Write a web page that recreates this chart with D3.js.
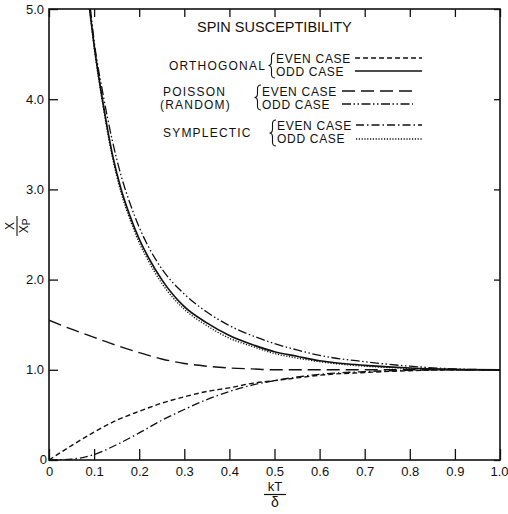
<!DOCTYPE html>
<html>
<head>
<meta charset="utf-8">
<script src="https://cdn.jsdelivr.net/npm/d3@7"></script>
<style>
  html, body { margin: 0; padding: 0; background: #fff; }
  svg { display: block; font-family: "Liberation Sans", Arial, Helvetica, sans-serif; }
</style>
</head>
<body>
<svg id="chart" width="508" height="514"></svg>
<script>
// ---- Data ----
const xTickValues = [0, 0.1, 0.2, 0.3, 0.4, 0.5, 0.6, 0.7, 0.8, 0.9, 1.0];
const xTickLabels = ["0", "0.1", "0.2", "0.3", "0.4", "0.5", "0.6", "0.7", "0.8", "0.9", "1.0"];
const yTickValues = [0, 1, 2, 3, 4, 5];
const yTickLabels = ["0", "1.0", "2.0", "3.0", "4.0", "5.0"];

// Orthogonal, odd case (solid)
const orthOddT = [0.09, 0.10, 0.12, 0.14, 0.16, 0.18, 0.20, 0.22, 0.25, 0.30, 0.35, 0.40, 0.45, 0.50, 0.55, 0.60, 0.65, 0.70, 0.80, 0.90, 1.00];
const orthOddV = [5.0, 4.6, 3.95, 3.4, 3.0, 2.7, 2.45, 2.25, 2.0, 1.7, 1.52, 1.38, 1.28, 1.2, 1.15, 1.1, 1.07, 1.05, 1.02, 1.005, 1.0];
// Orthogonal, even case (short dashes)
const orthEvenT = [0, 0.05, 0.10, 0.15, 0.20, 0.25, 0.30, 0.35, 0.40, 0.45, 0.50, 0.55, 0.60, 0.70, 0.80, 0.90, 1.00];
const orthEvenV = [0, 0.16, 0.31, 0.44, 0.54, 0.63, 0.70, 0.76, 0.80, 0.85, 0.88, 0.91, 0.94, 0.97, 0.99, 1.0, 1.0];
// Poisson (random), even case (long dashes)
const poisEvenT = [0, 0.05, 0.10, 0.15, 0.20, 0.25, 0.30, 0.35, 0.40, 0.45, 0.50, 0.60, 0.70, 0.80, 0.90, 1.00];
const poisEvenV = [1.55, 1.45, 1.36, 1.27, 1.19, 1.12, 1.07, 1.04, 1.02, 1.01, 1.0, 1.0, 1.0, 1.0, 1.0, 1.0];
// Poisson (random), odd case (dash-dot-dot)
const poisOddT = [0.092, 0.10, 0.12, 0.14, 0.16, 0.18, 0.20, 0.22, 0.25, 0.30, 0.35, 0.40, 0.45, 0.50, 0.55, 0.60, 0.70, 0.80, 0.90, 1.00];
const poisOddV = [5.0, 4.65, 4.05, 3.55, 3.15, 2.84, 2.58, 2.37, 2.12, 1.84, 1.64, 1.49, 1.38, 1.29, 1.22, 1.16, 1.09, 1.04, 1.01, 1.0];
// Symplectic, even case (dash-dot)
const sympEvenT = [0, 0.05, 0.10, 0.15, 0.20, 0.25, 0.30, 0.35, 0.40, 0.45, 0.50, 0.55, 0.60, 0.70, 0.80, 0.90, 1.00];
const sympEvenV = [0, 0.01, 0.06, 0.17, 0.30, 0.44, 0.56, 0.67, 0.76, 0.83, 0.88, 0.92, 0.95, 0.98, 0.995, 1.0, 1.0];
// Symplectic, odd case (dotted)
const sympOddT = [0.09, 0.10, 0.12, 0.14, 0.16, 0.18, 0.20, 0.22, 0.25, 0.30, 0.35, 0.40, 0.45, 0.50, 0.55, 0.60, 0.65, 0.70, 0.80, 0.90, 1.00];
const sympOddV = [5.0, 4.58, 3.92, 3.37, 2.96, 2.66, 2.41, 2.21, 1.96, 1.67, 1.49, 1.35, 1.26, 1.18, 1.13, 1.09, 1.06, 1.04, 1.015, 1.003, 1.0];

const seriesNames = ["orthEven", "orthOdd", "poisEven", "poisOdd", "sympEven", "sympOdd"];
const legendGroups = ["ORTHOGONAL", "POISSON", "SYMPLECTIC"];

// ---- Layout ----
const svg = d3.select("#chart");
const x = d3.scaleLinear().domain([0, 1]).range([49, 500]);
const y = d3.scaleLinear().domain([0, 5]).range([460, 9]);

const series = [
  { t: orthEvenT, v: orthEvenV, dash: "5,3", w: 1.4 },
  { t: orthOddT, v: orthOddV, dash: null, w: 1.7 },
  { t: poisEvenT, v: poisEvenV, dash: "13,6", w: 1.4 },
  { t: poisOddT, v: poisOddV, dash: "9,2.5,1.5,2.5,1.5,2.5", w: 1.3 },
  { t: sympEvenT, v: sympEvenV, dash: "8,3,1.5,3", w: 1.3 },
  { t: sympOddT, v: sympOddV, dash: "1.2,1.6", w: 1.3 }
];

svg.append("defs").append("clipPath").attr("id", "plotclip")
  .append("rect").attr("x", 49).attr("y", 9).attr("width", 451).attr("height", 451);

const line = d3.line()
  .x(d => x(d[0]))
  .y(d => y(d[1]))
  .curve(d3.curveMonotoneX);

const plot = svg.append("g").attr("clip-path", "url(#plotclip)");
series.forEach((s, i) => {
  const pts = s.t.map((t, j) => [t, s.v[j]]);
  plot.append("path")
    .attr("class", "series " + seriesNames[i])
    .attr("d", line(pts))
    .attr("fill", "none")
    .attr("stroke", "#111")
    .attr("stroke-width", s.w)
    .attr("stroke-dasharray", s.dash);
});

// ---- Axes ----
const axisColor = "#111";
const axBottom = svg.append("g").attr("transform", "translate(0,460)")
  .call(d3.axisBottom(x).tickValues(xTickValues)
    .tickFormat((d, i) => xTickLabels[i])
    .tickSizeInner(-11).tickSizeOuter(0).tickPadding(7));
const axTop = svg.append("g").attr("transform", "translate(0,9)")
  .call(d3.axisTop(x).tickValues(xTickValues).tickFormat("")
    .tickSizeInner(-8).tickSizeOuter(0));
const axLeft = svg.append("g").attr("transform", "translate(49,0)")
  .call(d3.axisLeft(y).tickValues(yTickValues)
    .tickFormat((d, i) => yTickLabels[i])
    .tickSizeInner(-9).tickSizeOuter(0).tickPadding(5));
const axRight = svg.append("g").attr("transform", "translate(500,0)")
  .call(d3.axisRight(y).tickValues(yTickValues).tickFormat("")
    .tickSizeInner(-6).tickSizeOuter(0));

[axBottom, axTop, axLeft, axRight].forEach(g => {
  g.select(".domain").remove();
  g.selectAll(".tick line").attr("stroke", axisColor).attr("stroke-width", 1.3);
  g.selectAll(".tick text").attr("fill", "#111").attr("font-size", 13)
    .attr("font-family", "\"Liberation Sans\", Arial, sans-serif");
});
// the zero of the y axis sits right against the corner
axLeft.selectAll(".tick text").filter(d => d === 0).attr("x", -2).attr("dy", "0.25em");
// keep the last x label inside the window
axBottom.selectAll(".tick text").filter(d => d === 1).attr("text-anchor", "end").attr("x", 8);

svg.append("rect").attr("x", 49).attr("y", 9).attr("width", 451).attr("height", 451)
  .attr("fill", "none").attr("stroke", axisColor).attr("stroke-width", 1.6);

// ---- Axis titles ----
const xl = svg.append("g").attr("transform", "translate(275,0)").attr("fill", "#111");
xl.append("text").attr("x", 0).attr("y", 491).attr("text-anchor", "middle")
  .attr("font-size", 13).text("kT");
xl.append("line").attr("x1", -11).attr("x2", 11).attr("y1", 494.5).attr("y2", 494.5)
  .attr("stroke", "#111").attr("stroke-width", 1.2);
xl.append("text").attr("x", 0).attr("y", 507).attr("text-anchor", "middle")
  .attr("font-size", 14).text("δ");

const yl = svg.append("g").attr("transform", "translate(17,226) rotate(-90)").attr("fill", "#111");
yl.append("text").attr("x", 0).attr("y", -3).attr("text-anchor", "middle")
  .attr("font-size", 12).text("X");
yl.append("line").attr("x1", -10).attr("x2", 10).attr("y1", 0).attr("y2", 0)
  .attr("stroke", "#111").attr("stroke-width", 1.1);
const den = yl.append("text").attr("x", 0).attr("y", 11).attr("text-anchor", "middle")
  .attr("font-size", 12);
den.append("tspan").text("X");
den.append("tspan").attr("font-size", 10).attr("dy", 2).text("P");

// ---- Legend ----
const lg = svg.append("g").attr("fill", "#111").attr("font-size", 12);
lg.append("text").attr("x", 197).attr("y", 32).attr("font-size", 14.5).text("SPIN SUSCEPTIBILITY");

function brace(xb, y0, y1) {
  const m = (y0 + y1) / 2;
  const p = d3.path();
  p.moveTo(xb + 5, y0);
  p.quadraticCurveTo(xb + 1, y0, xb + 1.5, y0 + 5);
  p.lineTo(xb + 1.5, m - 4);
  p.quadraticCurveTo(xb + 1.5, m, xb - 1.5, m);
  p.quadraticCurveTo(xb + 1.5, m, xb + 1.5, m + 4);
  p.lineTo(xb + 1.5, y1 - 5);
  p.quadraticCurveTo(xb + 1, y1, xb + 5, y1);
  lg.append("path").attr("d", p.toString()).attr("fill", "none")
    .attr("stroke", "#111").attr("stroke-width", 1.1);
}
function sample(x1, x2, yy, s) {
  lg.append("line").attr("x1", x1).attr("x2", x2).attr("y1", yy).attr("y2", yy)
    .attr("stroke", "#111").attr("stroke-width", s.w).attr("stroke-dasharray", s.dash);
}
function groupLabel(xx, yy, txt, anchor) {
  lg.append("text").attr("x", xx).attr("y", yy).attr("text-anchor", anchor || "start")
    .attr("letter-spacing", 1.2).text(txt);
}
function caseLabel(xx, yy, txt) {
  lg.append("text").attr("x", xx).attr("y", yy).attr("letter-spacing", 0.7).text(txt);
}

// Orthogonal
groupLabel(266, 70, legendGroups[0], "end");
brace(270, 53, 78);
caseLabel(276, 62.5, "EVEN CASE");
caseLabel(276, 76, "ODD CASE");
sample(355, 422, 58, series[0]);
sample(355, 422, 71, series[1]);

// Poisson
groupLabel(163, 95.5, legendGroups[1]);
groupLabel(160, 109, "(RANDOM)");
brace(256, 85, 110);
caseLabel(262, 95.5, "EVEN CASE");
caseLabel(262, 109, "ODD CASE");
sample(342, 413, 91, series[2]);
sample(342, 413, 104, series[3]);

// Symplectic
groupLabel(163, 137, legendGroups[2]);
brace(271, 120, 146);
caseLabel(277, 129.5, "EVEN CASE");
caseLabel(277, 143, "ODD CASE");
sample(356, 422, 125, series[4]);
sample(356, 422, 139, series[5]);
</script>
</body>
</html>
